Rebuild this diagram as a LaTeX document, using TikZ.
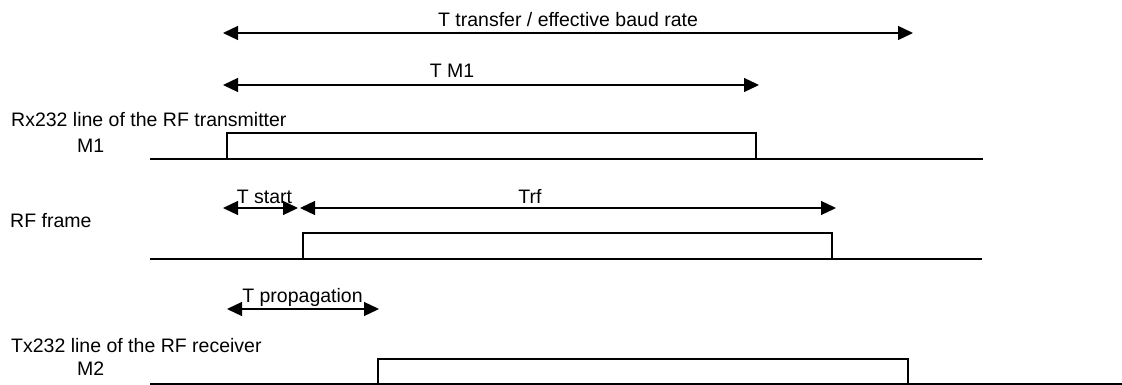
\documentclass[tikz,border=0pt]{standalone}
\usepackage{fontspec}
\setmainfont{Liberation Sans}
\usetikzlibrary{arrows.meta}
\begin{document}
\begin{tikzpicture}[x=1pt,y=-1pt,
  lbl/.style={inner sep=0pt,font=\fontsize{19.5}{22}\selectfont,anchor=base},
  lbll/.style={lbl,anchor=base west},
  sig/.style={line width=2pt},
  dim/.style={line width=1.3pt,{Triangle[length=15pt,width=14pt]}-{Triangle[length=15pt,width=14pt]}}]
\useasboundingbox (0,0) rectangle (1122,385);
% coordinates for dimension arrows
\coordinate (tl) at (223,33); \coordinate (tr) at (913,33);
\coordinate (ml) at (223,85); \coordinate (mr) at (759,85);
\coordinate (sl) at (223,208); \coordinate (sr) at (298,208);
\coordinate (fl) at (300,208); \coordinate (fr) at (836,208);
\coordinate (pl) at (227,309); \coordinate (pr) at (379,309);
% dimension arrows
\draw[dim] (tl) -- (tr);
\draw[dim] (ml) -- (mr);
\draw[dim] (sl) -- (sr);
\draw[dim] (fl) -- (fr);
\draw[dim] (pl) -- (pr);
% dimension labels
\node[lbl] (ttxt) at (568,27) {T transfer / effective baud rate};
\node[lbl] (mtxt) at (452,78) {T M1};
\node[lbl] (stxt) at (264.5,203) {T start};
\node[lbl] (ftxt) at (530,203) {Trf};
\node[lbl] (ptxt) at (302.5,302) {T propagation};
% row labels
\node[lbll] (rx) at (11,127) {Rx232 line of the RF transmitter};
\node[lbll] (m1) at (77,153) {M1};
\node[lbll] (rf) at (10,227) {RF frame};
\node[lbll] (tx) at (11,352) {Tx232 line of the RF receiver};
\node[lbll] (m2) at (77,375) {M2};
% signals
\coordinate (a0) at (150,159); \coordinate (a1) at (983,159);
\draw[sig] (a0) -- (a1);
\draw[sig] (227,159) rectangle (756,133);
\coordinate (b0) at (150,259); \coordinate (b1) at (982,259);
\draw[sig] (b0) -- (b1);
\draw[sig] (303,259) rectangle (832,233);
\coordinate (c0) at (150,384); \coordinate (c1) at (1122,384);
\draw[sig] (c0) -- (c1);
\draw[sig] (378,384) rectangle (908,359);
\end{tikzpicture}
\end{document}
